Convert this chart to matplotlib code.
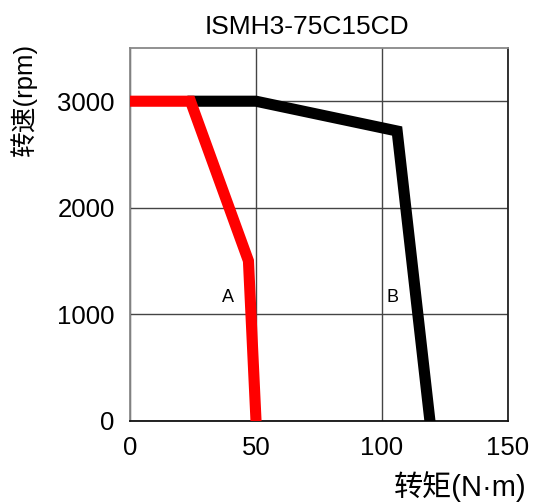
import numpy as np
import matplotlib.pyplot as plt

plt.rcParams['font.family'] = ['Liberation Sans', 'Noto Sans CJK SC', 'DejaVu Sans']

# 曲线数据 (转矩 N·m, 转速 rpm)
torque_a = [0, 24, 47, 50]
speed_a = [3000, 3000, 1500, 0]
torque_b = [25, 50, 106, 119]
speed_b = [3000, 3000, 2720, 0]

x_ticks = [0, 50, 100, 150]
y_ticks = [0, 1000, 2000, 3000]

fig = plt.figure(figsize=(5.34, 5.03), dpi=100)
ax = fig.add_axes([130 / 534, 1 - 420.5 / 503, 378 / 534, 372.5 / 503])

ax.plot(torque_b, speed_b, color='black', lw=8, solid_joinstyle='miter', zorder=3)
ax.plot(torque_a, speed_a, color='red', lw=8, solid_joinstyle='miter', zorder=4)

ax.text(39, 1155, 'A', fontsize=13, ha='center', va='center')
ax.text(104, 1155, 'B', fontsize=13, ha='center', va='center')

ax.set_xlim(0, 150)
ax.set_ylim(0, 3500)
ax.set_xticks(x_ticks)
ax.set_yticks(y_ticks)
ax.tick_params(length=0, labelsize=18.5)
ax.tick_params(axis='y', pad=11)
ax.tick_params(axis='x', pad=11)
ax.grid(True, color='#444444', lw=1)

ax.spines['left'].set_color('#888888')
ax.spines['top'].set_color('#888888')
ax.spines['right'].set_color('#222222')
ax.spines['bottom'].set_color('#111111')
for s in ax.spines.values():
    s.set_linewidth(1.3)

ax.set_title('ISMH3-75C15CD', fontsize=19, pad=10, x=0.468)
fig.text(24 / 534, 1 - 43 / 503, '转速(rpm)', rotation=90, fontsize=18.5,
         ha='center', va='top')
fig.text(460 / 534, 1 - 487 / 503, '转矩(N·m)', fontsize=21,
         ha='center', va='center')

plt.savefig('out.png', dpi=100)
